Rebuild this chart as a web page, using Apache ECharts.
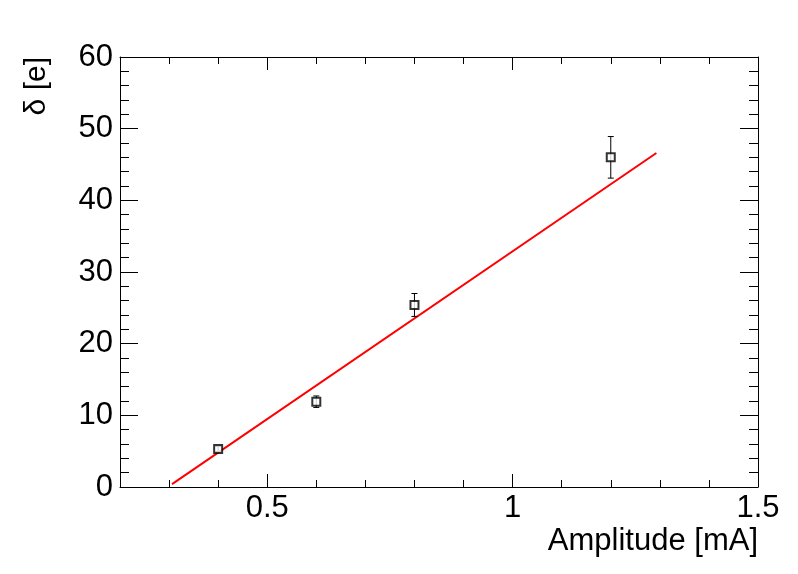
<!DOCTYPE html>
<html>
<head>
<meta charset="utf-8">
<script src="https://cdn.jsdelivr.net/npm/echarts@6/dist/echarts.min.js"></script>
<style>
  html, body { margin: 0; padding: 0; background: #fff; }
  #myChart { width: 798px; height: 574px; }
</style>
</head>
<body>
<div id="myChart"></div>
<script>
// measured points
const amplitude = [0.4, 0.6, 0.8, 1.2];
const delta = [5.3, 11.9, 25.4, 46.0];
const deltaErr = [0.35, 0.8, 1.6, 2.9];
// straight-line fit, end points
const fitX = [0.306, 1.293];
const fitY = [0.4, 46.6];
// axis ticks
const xMajorTicks = [0.5, 1, 1.5];

const font = "'Liberation Sans', Arial, sans-serif";
const black = { color: "#000", width: 1 };

var chartDom = document.getElementById("myChart");
var myChart = echarts.init(chartDom);

function xAxisOf(pos, major) {
  const ax = {
    type: "value",
    position: pos,
    min: 0.2,
    max: 1.5,
    splitLine: { show: false },
    axisLine: { show: major, onZero: false, lineStyle: black },
    axisTick: { show: true, inside: true, length: major ? 13 : 7, lineStyle: black },
    axisLabel: { show: false },
  };
  if (major) {
    ax.axisTick.customValues = xMajorTicks;
    if (pos == "bottom") {
      ax.axisLabel = {
        show: true,
        customValues: xMajorTicks,
        fontSize: 31,
        fontFamily: font,
        color: "#000",
        margin: 6,
      };
    }
  } else {
    ax.interval = 0.1;
  }
  return ax;
}

function yAxisOf(pos) {
  return {
    type: "value",
    position: pos,
    min: 0,
    max: 60,
    interval: 10,
    splitLine: { show: false },
    axisLine: { show: true, onZero: false, lineStyle: black },
    axisTick: { show: true, inside: true, length: 18, lineStyle: black },
    minorTick: { show: true, splitNumber: 5, length: 9, lineStyle: black },
    axisLabel: {
      show: pos == "left",
      fontSize: 31,
      fontFamily: font,
      color: "#000",
      margin: 7,
    },
  };
}

const option = {
  animation: false,
  backgroundColor: "#fff",
  grid: { left: 120, right: 40, top: 57, bottom: 87 },
  title: [
    {
      text: "Amplitude [mA]",
      right: 40,
      top: 526,
      padding: 0,
      textStyle: { fontSize: 31, fontWeight: "normal", fontFamily: font, color: "#000" },
    },
  ],
  graphic: [
    {
      type: "text",
      x: 37,
      y: 57,
      rotation: Math.PI / 2,
      style: {
        text: "δ [e]",
        font: "30px " + font,
        fill: "#000",
        align: "right",
        verticalAlign: "middle",
      },
    },
  ],
  xAxis: [xAxisOf("bottom", true), xAxisOf("top", true), xAxisOf("bottom", false), xAxisOf("top", false)],
  yAxis: [yAxisOf("left"), yAxisOf("right")],
  series: [
    {
      type: "line",
      xAxisIndex: 0,
      yAxisIndex: 0,
      data: fitX.map((x, i) => [x, fitY[i]]),
      symbol: "none",
      lineStyle: { color: "#ff0000", width: 2 },
      z: 3,
    },
    {
      type: "custom",
      xAxisIndex: 0,
      yAxisIndex: 0,
      data: amplitude.map((x, i) => [x, delta[i], deltaErr[i]]),
      renderItem: function (params, api) {
        const x = api.value(0), y = api.value(1), e = api.value(2);
        const top = api.coord([x, y + e]);
        const bot = api.coord([x, y - e]);
        const cw = 3;
        const st = { stroke: "#000", lineWidth: 1 };
        return {
          type: "group",
          children: [
            { type: "line", shape: { x1: top[0], y1: top[1], x2: bot[0], y2: bot[1] }, style: st },
            { type: "line", shape: { x1: top[0] - cw, y1: top[1], x2: top[0] + cw, y2: top[1] }, style: st },
            { type: "line", shape: { x1: bot[0] - cw, y1: bot[1], x2: bot[0] + cw, y2: bot[1] }, style: st },
          ],
        };
      },
      z: 4,
    },
    {
      type: "scatter",
      xAxisIndex: 0,
      yAxisIndex: 0,
      data: amplitude.map((x, i) => [x, delta[i]]),
      symbol: "emptyRect",
      symbolSize: 8,
      itemStyle: { color: "#000", borderWidth: 1 },
      z: 5,
    },
  ],
};

option && myChart.setOption(option);
</script>
</body>
</html>
